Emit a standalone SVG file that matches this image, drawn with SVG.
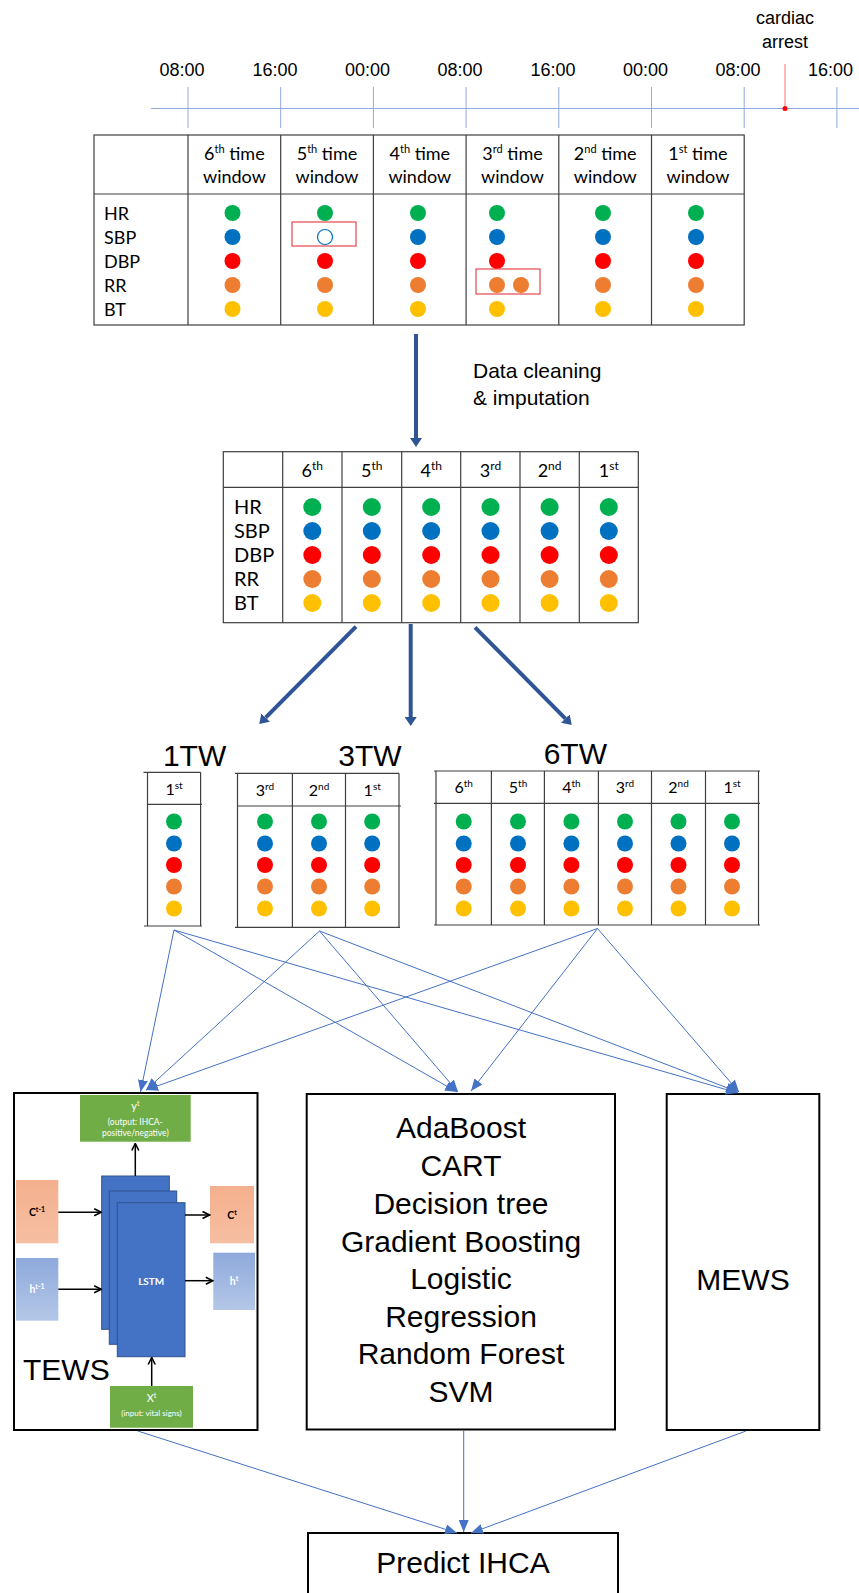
<svg xmlns="http://www.w3.org/2000/svg" width="859" height="1593" viewBox="0 0 859 1593">
<defs>
<style>
.tl{stroke:#8FAADC;stroke-width:1;fill:none}
.sans{font-family:"Liberation Sans",Arial,Helvetica,sans-serif;fill:#000}
.tt{font-size:18px;text-anchor:middle}
.grid{stroke:#3F3F3F;stroke-width:1.2;fill:none}
.cal{font-family:Lato,"Open Sans",sans-serif;fill:#000}
.hd{font-size:18px;text-anchor:middle}
.hs{font-size:16px;text-anchor:middle}
.lb{font-size:18px}
.g{fill:#00B050}.b{fill:#0070C0}.r{fill:#FF0000}.o{fill:#ED7D31}.y{fill:#FFC000}
.thick{stroke:#2F5597;stroke-width:4;fill:none;marker-end:url(#headThick)}
.thin{stroke:#4472C4;stroke-width:1;fill:none;marker-end:url(#headThin)}
.box{fill:#fff;stroke:#000;stroke-width:2}
.big{font-size:30px;text-anchor:middle}
.lstm{fill:#4472C4;stroke:#2F528F;stroke-width:1}
.wt{font-family:Lato,"Open Sans",sans-serif;fill:#fff;text-anchor:middle}
.bk{font-family:Lato,"Open Sans",sans-serif;fill:#000;text-anchor:middle}
.inner{stroke:#000;stroke-width:1.5;fill:none;marker-end:url(#headBlack)}
.redbox{fill:none;stroke:#E8474C;stroke-width:1.2}
</style>
<marker id="headThick" viewBox="0 -6 9 12" refX="0" refY="0" markerWidth="9" markerHeight="12" markerUnits="userSpaceOnUse" orient="auto"><path d="M0,-6 L9,0 L0,6 z" fill="#2F5597"/></marker>
<marker id="headThin" viewBox="0 -5 12 10" refX="12" refY="0" markerWidth="12" markerHeight="10" markerUnits="userSpaceOnUse" orient="auto"><path d="M0,-5 L12,0 L0,5 z" fill="#4472C4"/></marker>
<marker id="headBlack" viewBox="-1 -5 9 10" refX="7" refY="0" markerWidth="9" markerHeight="10" markerUnits="userSpaceOnUse" orient="auto"><path d="M0,-3.5 L7,0 L0,3.5" fill="none" stroke="#000" stroke-width="1.6"/></marker>
<linearGradient id="cGrad" x1="0" y1="0" x2="0" y2="1"><stop offset="0" stop-color="#F4B08E"/><stop offset="1" stop-color="#F6BFA2"/></linearGradient>
<linearGradient id="hGrad" x1="0" y1="0" x2="0" y2="1"><stop offset="0" stop-color="#8EA9DB"/><stop offset="1" stop-color="#B4C7E7"/></linearGradient>
</defs>
<rect width="859" height="1593" fill="#fff"/>

<!-- timeline -->
<g id="timeline">
<line class="tl" x1="151" y1="108.5" x2="859" y2="108.5"/>
<line class="tl" x1="188" y1="87" x2="188" y2="128"/>
<line class="tl" x1="280.7" y1="87" x2="280.7" y2="128"/>
<line class="tl" x1="373.4" y1="87" x2="373.4" y2="128"/>
<line class="tl" x1="466.1" y1="87" x2="466.1" y2="128"/>
<line class="tl" x1="558.8" y1="87" x2="558.8" y2="128"/>
<line class="tl" x1="651.5" y1="87" x2="651.5" y2="128"/>
<line class="tl" x1="744.2" y1="87" x2="744.2" y2="128"/>
<line class="tl" x1="836.9" y1="87" x2="836.9" y2="128"/>
<text class="sans tt" x="182" y="76">08:00</text>
<text class="sans tt" x="275" y="76">16:00</text>
<text class="sans tt" x="367.5" y="76">00:00</text>
<text class="sans tt" x="460" y="76">08:00</text>
<text class="sans tt" x="553" y="76">16:00</text>
<text class="sans tt" x="645.5" y="76">00:00</text>
<text class="sans tt" x="738" y="76">08:00</text>
<text class="sans tt" x="830.5" y="76">16:00</text>
<line x1="785" y1="64" x2="785" y2="108.5" stroke="#FF7070" stroke-width="1"/>
<circle cx="785" cy="108.5" r="2.5" fill="#FF0000"/>
<text class="sans tt" x="785" y="24">cardiac</text>
<text class="sans tt" x="785" y="48">arrest</text>
</g>

<!-- raw data table -->
<g id="raw-table">
<rect class="grid" x="94" y="135" width="650.2" height="190"/>
<line class="grid" x1="94" y1="194" x2="744.2" y2="194"/>
<line class="grid" x1="188" y1="135" x2="188" y2="325"/>
<line class="grid" x1="280.7" y1="135" x2="280.7" y2="325"/>
<line class="grid" x1="373.4" y1="135" x2="373.4" y2="325"/>
<line class="grid" x1="466.1" y1="135" x2="466.1" y2="325"/>
<line class="grid" x1="558.8" y1="135" x2="558.8" y2="325"/>
<line class="grid" x1="651.5" y1="135" x2="651.5" y2="325"/>
<g class="cal hd">
<text x="234.4" y="160">6<tspan font-size="11" dy="-7">th</tspan><tspan dy="7"> time</tspan></text>
<text x="327" y="160">5<tspan font-size="11" dy="-7">th</tspan><tspan dy="7"> time</tspan></text>
<text x="419.8" y="160">4<tspan font-size="11" dy="-7">th</tspan><tspan dy="7"> time</tspan></text>
<text x="512.5" y="160">3<tspan font-size="11" dy="-7">rd</tspan><tspan dy="7"> time</tspan></text>
<text x="605.2" y="160">2<tspan font-size="11" dy="-7">nd</tspan><tspan dy="7"> time</tspan></text>
<text x="697.9" y="160">1<tspan font-size="11" dy="-7">st</tspan><tspan dy="7"> time</tspan></text>
<text x="234.4" y="183">window</text>
<text x="327" y="183">window</text>
<text x="419.8" y="183">window</text>
<text x="512.5" y="183">window</text>
<text x="605.2" y="183">window</text>
<text x="697.9" y="183">window</text>
</g>
<g class="cal lb">
<text x="104" y="220">HR</text>
<text x="104" y="244">SBP</text>
<text x="104" y="268">DBP</text>
<text x="104" y="292">RR</text>
<text x="104" y="316">BT</text>
</g>
<g id="raw-dots">
<circle class="g" cx="232.5" cy="213" r="8"/><circle class="b" cx="232.5" cy="237" r="8"/><circle class="r" cx="232.5" cy="261" r="8"/><circle class="o" cx="232.5" cy="285" r="8"/><circle class="y" cx="232.5" cy="309" r="8"/>
<circle class="g" cx="325" cy="213" r="8"/><circle cx="325" cy="237" r="7.5" fill="#fff" stroke="#0070C0" stroke-width="1.2"/><circle class="r" cx="325" cy="261" r="8"/><circle class="o" cx="325" cy="285" r="8"/><circle class="y" cx="325" cy="309" r="8"/>
<circle class="g" cx="418" cy="213" r="8"/><circle class="b" cx="418" cy="237" r="8"/><circle class="r" cx="418" cy="261" r="8"/><circle class="o" cx="418" cy="285" r="8"/><circle class="y" cx="418" cy="309" r="8"/>
<circle class="g" cx="497" cy="213" r="8"/><circle class="b" cx="497" cy="237" r="8"/><circle class="r" cx="497" cy="261" r="8"/><circle class="o" cx="497" cy="285" r="8"/><circle class="o" cx="521" cy="285" r="8"/><circle class="y" cx="497" cy="309" r="8"/>
<circle class="g" cx="603" cy="213" r="8"/><circle class="b" cx="603" cy="237" r="8"/><circle class="r" cx="603" cy="261" r="8"/><circle class="o" cx="603" cy="285" r="8"/><circle class="y" cx="603" cy="309" r="8"/>
<circle class="g" cx="696" cy="213" r="8"/><circle class="b" cx="696" cy="237" r="8"/><circle class="r" cx="696" cy="261" r="8"/><circle class="o" cx="696" cy="285" r="8"/><circle class="y" cx="696" cy="309" r="8"/>
</g>
<rect class="redbox" x="292" y="222" width="64" height="24"/>
<rect class="redbox" x="476" y="269" width="64" height="25"/>
</g>

<!-- cleaned data table -->
<g id="clean-table">
<rect class="grid" x="223.3" y="451.7" width="415" height="171"/>
<line class="grid" x1="223.3" y1="487.3" x2="638.3" y2="487.3"/>
<line class="grid" x1="282.7" y1="451.7" x2="282.7" y2="622.7"/>
<line class="grid" x1="342" y1="451.7" x2="342" y2="622.7"/>
<line class="grid" x1="401.7" y1="451.7" x2="401.7" y2="622.7"/>
<line class="grid" x1="460.7" y1="451.7" x2="460.7" y2="622.7"/>
<line class="grid" x1="520" y1="451.7" x2="520" y2="622.7"/>
<line class="grid" x1="579.3" y1="451.7" x2="579.3" y2="622.7"/>
<g class="cal hd" font-size="19">
<text x="312.3" y="477">6<tspan font-size="12" dy="-7">th</tspan></text>
<text x="371.8" y="477">5<tspan font-size="12" dy="-7">th</tspan></text>
<text x="431.2" y="477">4<tspan font-size="12" dy="-7">th</tspan></text>
<text x="490.5" y="477">3<tspan font-size="12" dy="-7">rd</tspan></text>
<text x="549.6" y="477">2<tspan font-size="12" dy="-7">nd</tspan></text>
<text x="608.8" y="477">1<tspan font-size="12" dy="-7">st</tspan></text>
</g>
<g class="cal" font-size="20">
<text x="234" y="514">HR</text>
<text x="234" y="538">SBP</text>
<text x="234" y="562">DBP</text>
<text x="234" y="586">RR</text>
<text x="234" y="610">BT</text>
</g>
<g id="clean-dots">
<circle class="g" cx="312.3" cy="507" r="9"/><circle class="b" cx="312.3" cy="531" r="9"/><circle class="r" cx="312.3" cy="555" r="9"/><circle class="o" cx="312.3" cy="579" r="9"/><circle class="y" cx="312.3" cy="603" r="9"/>
<circle class="g" cx="371.8" cy="507" r="9"/><circle class="b" cx="371.8" cy="531" r="9"/><circle class="r" cx="371.8" cy="555" r="9"/><circle class="o" cx="371.8" cy="579" r="9"/><circle class="y" cx="371.8" cy="603" r="9"/>
<circle class="g" cx="431.2" cy="507" r="9"/><circle class="b" cx="431.2" cy="531" r="9"/><circle class="r" cx="431.2" cy="555" r="9"/><circle class="o" cx="431.2" cy="579" r="9"/><circle class="y" cx="431.2" cy="603" r="9"/>
<circle class="g" cx="490.5" cy="507" r="9"/><circle class="b" cx="490.5" cy="531" r="9"/><circle class="r" cx="490.5" cy="555" r="9"/><circle class="o" cx="490.5" cy="579" r="9"/><circle class="y" cx="490.5" cy="603" r="9"/>
<circle class="g" cx="549.6" cy="507" r="9"/><circle class="b" cx="549.6" cy="531" r="9"/><circle class="r" cx="549.6" cy="555" r="9"/><circle class="o" cx="549.6" cy="579" r="9"/><circle class="y" cx="549.6" cy="603" r="9"/>
<circle class="g" cx="608.8" cy="507" r="9"/><circle class="b" cx="608.8" cy="531" r="9"/><circle class="r" cx="608.8" cy="555" r="9"/><circle class="o" cx="608.8" cy="579" r="9"/><circle class="y" cx="608.8" cy="603" r="9"/>
</g>
</g>

<text id="cleaning-label" class="sans" font-size="21"><tspan x="473" y="378">Data cleaning</tspan><tspan x="473" y="405">&amp; imputation</tspan></text>

<!-- 1 time window -->
<g id="tw1">
<text class="sans big" x="194.6" y="766">1TW</text>
<line class="grid" x1="143.5" y1="772.3" x2="200.6" y2="772.3"/>
<line class="grid" x1="147.5" y1="804.3" x2="202" y2="804.3"/>
<line class="grid" x1="144" y1="926" x2="202" y2="926"/>
<line class="grid" x1="147.5" y1="772.3" x2="147.5" y2="926"/>
<line class="grid" x1="200.6" y1="772.3" x2="200.6" y2="926"/>
<text class="cal hs" x="174" y="795">1<tspan font-size="10" dy="-6">st</tspan></text>
<circle class="g" cx="174" cy="821.5" r="8"/><circle class="b" cx="174" cy="843.5" r="8"/><circle class="r" cx="174" cy="865" r="8"/><circle class="o" cx="174" cy="886.5" r="8"/><circle class="y" cx="174" cy="908.5" r="8"/>
</g>

<!-- 3 time windows -->
<g id="tw3">
<text class="sans big" x="370" y="766">3TW</text>
<line class="grid" x1="235" y1="773.3" x2="399" y2="773.3"/>
<line class="grid" x1="237.5" y1="806" x2="401" y2="806"/>
<line class="grid" x1="235" y1="927.3" x2="400" y2="927.3"/>
<line class="grid" x1="237.5" y1="773.3" x2="237.5" y2="927.3"/>
<line class="grid" x1="292.4" y1="773.3" x2="292.4" y2="927.3"/>
<line class="grid" x1="345.5" y1="773.3" x2="345.5" y2="927.3"/>
<line class="grid" x1="399" y1="773.3" x2="399" y2="927.3"/>
<g class="cal hs">
<text x="265" y="796">3<tspan font-size="10" dy="-6">rd</tspan></text>
<text x="319" y="796">2<tspan font-size="10" dy="-6">nd</tspan></text>
<text x="372.2" y="796">1<tspan font-size="10" dy="-6">st</tspan></text>
</g>
<circle class="g" cx="265" cy="821.5" r="8"/><circle class="b" cx="265" cy="843.5" r="8"/><circle class="r" cx="265" cy="865" r="8"/><circle class="o" cx="265" cy="886.5" r="8"/><circle class="y" cx="265" cy="908.5" r="8"/>
<circle class="g" cx="319" cy="821.5" r="8"/><circle class="b" cx="319" cy="843.5" r="8"/><circle class="r" cx="319" cy="865" r="8"/><circle class="o" cx="319" cy="886.5" r="8"/><circle class="y" cx="319" cy="908.5" r="8"/>
<circle class="g" cx="372.2" cy="821.5" r="8"/><circle class="b" cx="372.2" cy="843.5" r="8"/><circle class="r" cx="372.2" cy="865" r="8"/><circle class="o" cx="372.2" cy="886.5" r="8"/><circle class="y" cx="372.2" cy="908.5" r="8"/>
</g>

<!-- 6 time windows -->
<g id="tw6">
<text class="sans big" x="575.3" y="764">6TW</text>
<line class="grid" x1="434" y1="771" x2="760" y2="771"/>
<line class="grid" x1="434" y1="803.3" x2="760" y2="803.3"/>
<line class="grid" x1="434" y1="925" x2="760" y2="925"/>
<line class="grid" x1="436" y1="771" x2="436" y2="925"/>
<line class="grid" x1="491.4" y1="771" x2="491.4" y2="925"/>
<line class="grid" x1="544.4" y1="771" x2="544.4" y2="925"/>
<line class="grid" x1="598.4" y1="771" x2="598.4" y2="925"/>
<line class="grid" x1="651.5" y1="771" x2="651.5" y2="925"/>
<line class="grid" x1="705.5" y1="771" x2="705.5" y2="925"/>
<line class="grid" x1="758.5" y1="771" x2="758.5" y2="925"/>
<g class="cal hs">
<text x="463.7" y="793">6<tspan font-size="10" dy="-6">th</tspan></text>
<text x="518" y="793">5<tspan font-size="10" dy="-6">th</tspan></text>
<text x="571.4" y="793">4<tspan font-size="10" dy="-6">th</tspan></text>
<text x="625" y="793">3<tspan font-size="10" dy="-6">rd</tspan></text>
<text x="678.5" y="793">2<tspan font-size="10" dy="-6">nd</tspan></text>
<text x="732" y="793">1<tspan font-size="10" dy="-6">st</tspan></text>
</g>
<circle class="g" cx="463.7" cy="821.5" r="8"/><circle class="b" cx="463.7" cy="843.5" r="8"/><circle class="r" cx="463.7" cy="865" r="8"/><circle class="o" cx="463.7" cy="886.5" r="8"/><circle class="y" cx="463.7" cy="908.5" r="8"/>
<circle class="g" cx="518" cy="821.5" r="8"/><circle class="b" cx="518" cy="843.5" r="8"/><circle class="r" cx="518" cy="865" r="8"/><circle class="o" cx="518" cy="886.5" r="8"/><circle class="y" cx="518" cy="908.5" r="8"/>
<circle class="g" cx="571.4" cy="821.5" r="8"/><circle class="b" cx="571.4" cy="843.5" r="8"/><circle class="r" cx="571.4" cy="865" r="8"/><circle class="o" cx="571.4" cy="886.5" r="8"/><circle class="y" cx="571.4" cy="908.5" r="8"/>
<circle class="g" cx="625" cy="821.5" r="8"/><circle class="b" cx="625" cy="843.5" r="8"/><circle class="r" cx="625" cy="865" r="8"/><circle class="o" cx="625" cy="886.5" r="8"/><circle class="y" cx="625" cy="908.5" r="8"/>
<circle class="g" cx="678.5" cy="821.5" r="8"/><circle class="b" cx="678.5" cy="843.5" r="8"/><circle class="r" cx="678.5" cy="865" r="8"/><circle class="o" cx="678.5" cy="886.5" r="8"/><circle class="y" cx="678.5" cy="908.5" r="8"/>
<circle class="g" cx="732" cy="821.5" r="8"/><circle class="b" cx="732" cy="843.5" r="8"/><circle class="r" cx="732" cy="865" r="8"/><circle class="o" cx="732" cy="886.5" r="8"/><circle class="y" cx="732" cy="908.5" r="8"/>
</g>

<!-- TEWS model -->
<g id="tews">
<rect class="box" x="14" y="1093" width="243.5" height="337"/>
<rect x="80" y="1095" width="110.7" height="46.7" fill="#70AD47"/>
<text class="wt" x="135.3" y="1110" font-size="11">y<tspan font-size="7" dy="-4">t</tspan></text>
<text class="wt" x="135.3" y="1124.5" font-size="8.5">(output: IHCA-</text>
<text class="wt" x="135.3" y="1136" font-size="8.5">positive/negative)</text>
<rect x="16" y="1180" width="42.3" height="63.3" fill="url(#cGrad)"/>
<text class="bk" x="37" y="1216" font-size="10.5" font-weight="bold">C<tspan font-size="7" dy="-4">t-1</tspan></text>
<rect x="16" y="1258" width="42.3" height="62.7" fill="url(#hGrad)"/>
<text class="wt" x="37" y="1293" font-size="10.5" font-weight="bold">h<tspan font-size="7" dy="-4">t-1</tspan></text>
<rect class="lstm" x="101.7" y="1176" width="67.6" height="153.3"/>
<rect class="lstm" x="109.3" y="1191" width="67.4" height="153.3"/>
<rect class="lstm" x="117.3" y="1202.7" width="67.7" height="154"/>
<text class="wt" x="151.2" y="1284.5" font-size="10" font-weight="bold">LSTM</text>
<rect x="210" y="1186" width="44" height="57.3" fill="url(#cGrad)"/>
<text class="bk" x="232" y="1219" font-size="10.5" font-weight="bold">C<tspan font-size="7" dy="-4">t</tspan></text>
<rect x="213.3" y="1252.7" width="41.7" height="57.3" fill="url(#hGrad)"/>
<text class="wt" x="234" y="1285" font-size="10.5" font-weight="bold">h<tspan font-size="7" dy="-4">t</tspan></text>
<line class="inner" x1="135.3" y1="1176" x2="135.3" y2="1143.5"/>
<line class="inner" x1="58.3" y1="1212.3" x2="101.2" y2="1212.3"/>
<line class="inner" x1="58.3" y1="1289.3" x2="101.2" y2="1289.3"/>
<line class="inner" x1="185" y1="1215" x2="209.5" y2="1215"/>
<line class="inner" x1="185" y1="1280.7" x2="212.8" y2="1280.7"/>
<line class="inner" x1="151.7" y1="1386" x2="151.7" y2="1357.5"/>
<rect x="110" y="1386" width="83" height="41.7" fill="#70AD47"/>
<text class="wt" x="151.5" y="1402" font-size="11">X<tspan font-size="7" dy="-4">t</tspan></text>
<text class="wt" x="151.5" y="1415.5" font-size="8">(input: vital signs)</text>
<text class="sans" x="23" y="1380" font-size="30">TEWS</text>
</g>

<!-- machine learning models -->
<g id="ml-models">
<rect class="box" x="306.7" y="1094" width="308.3" height="335.5"/>
<g class="sans big" font-size="31">
<text x="461" y="1138">AdaBoost</text>
<text x="461" y="1176">CART</text>
<text x="461" y="1214">Decision tree</text>
<text x="461" y="1251.5">Gradient Boosting</text>
<text x="461" y="1289">Logistic</text>
<text x="461" y="1327">Regression</text>
<text x="461" y="1364">Random Forest</text>
<text x="461" y="1402">SVM</text>
</g>
</g>

<g id="mews">
<rect class="box" x="666.7" y="1094" width="152.6" height="336"/>
<text class="sans big" x="743" y="1289.5" font-size="31">MEWS</text>
</g>

<g id="predict">
<rect class="box" x="308" y="1533" width="310" height="70"/>
<text class="sans big" x="463" y="1573">Predict IHCA</text>
</g>

<!-- connectors -->
<g id="connectors">
<line class="thick" x1="416" y1="334" x2="416" y2="438"/>
<line class="thick" x1="356" y1="626.7" x2="265.6" y2="717.6"/>
<line class="thick" x1="410.7" y1="624" x2="410.7" y2="717"/>
<line class="thick" x1="475" y1="627.3" x2="565.4" y2="718.6"/>

<line class="thin" x1="174" y1="930" x2="140.5" y2="1092"/>
<line class="thin" x1="174" y1="930" x2="457" y2="1092"/>
<line class="thin" x1="174" y1="930" x2="738" y2="1093"/>
<line class="thin" x1="319.5" y1="931" x2="146" y2="1090"/>
<line class="thin" x1="319.5" y1="931" x2="458" y2="1092"/>
<line class="thin" x1="319.5" y1="931" x2="738" y2="1092"/>
<line class="thin" x1="597.5" y1="928.5" x2="146" y2="1090"/>
<line class="thin" x1="597.5" y1="928.5" x2="471" y2="1091"/>
<line class="thin" x1="597.5" y1="928.5" x2="739" y2="1092"/>

<line class="thin" x1="137.7" y1="1431" x2="457" y2="1533"/>
<line class="thin" x1="463.7" y1="1430.5" x2="463.7" y2="1532"/>
<line class="thin" x1="746" y1="1431" x2="471" y2="1533"/>
</g>
</svg>
